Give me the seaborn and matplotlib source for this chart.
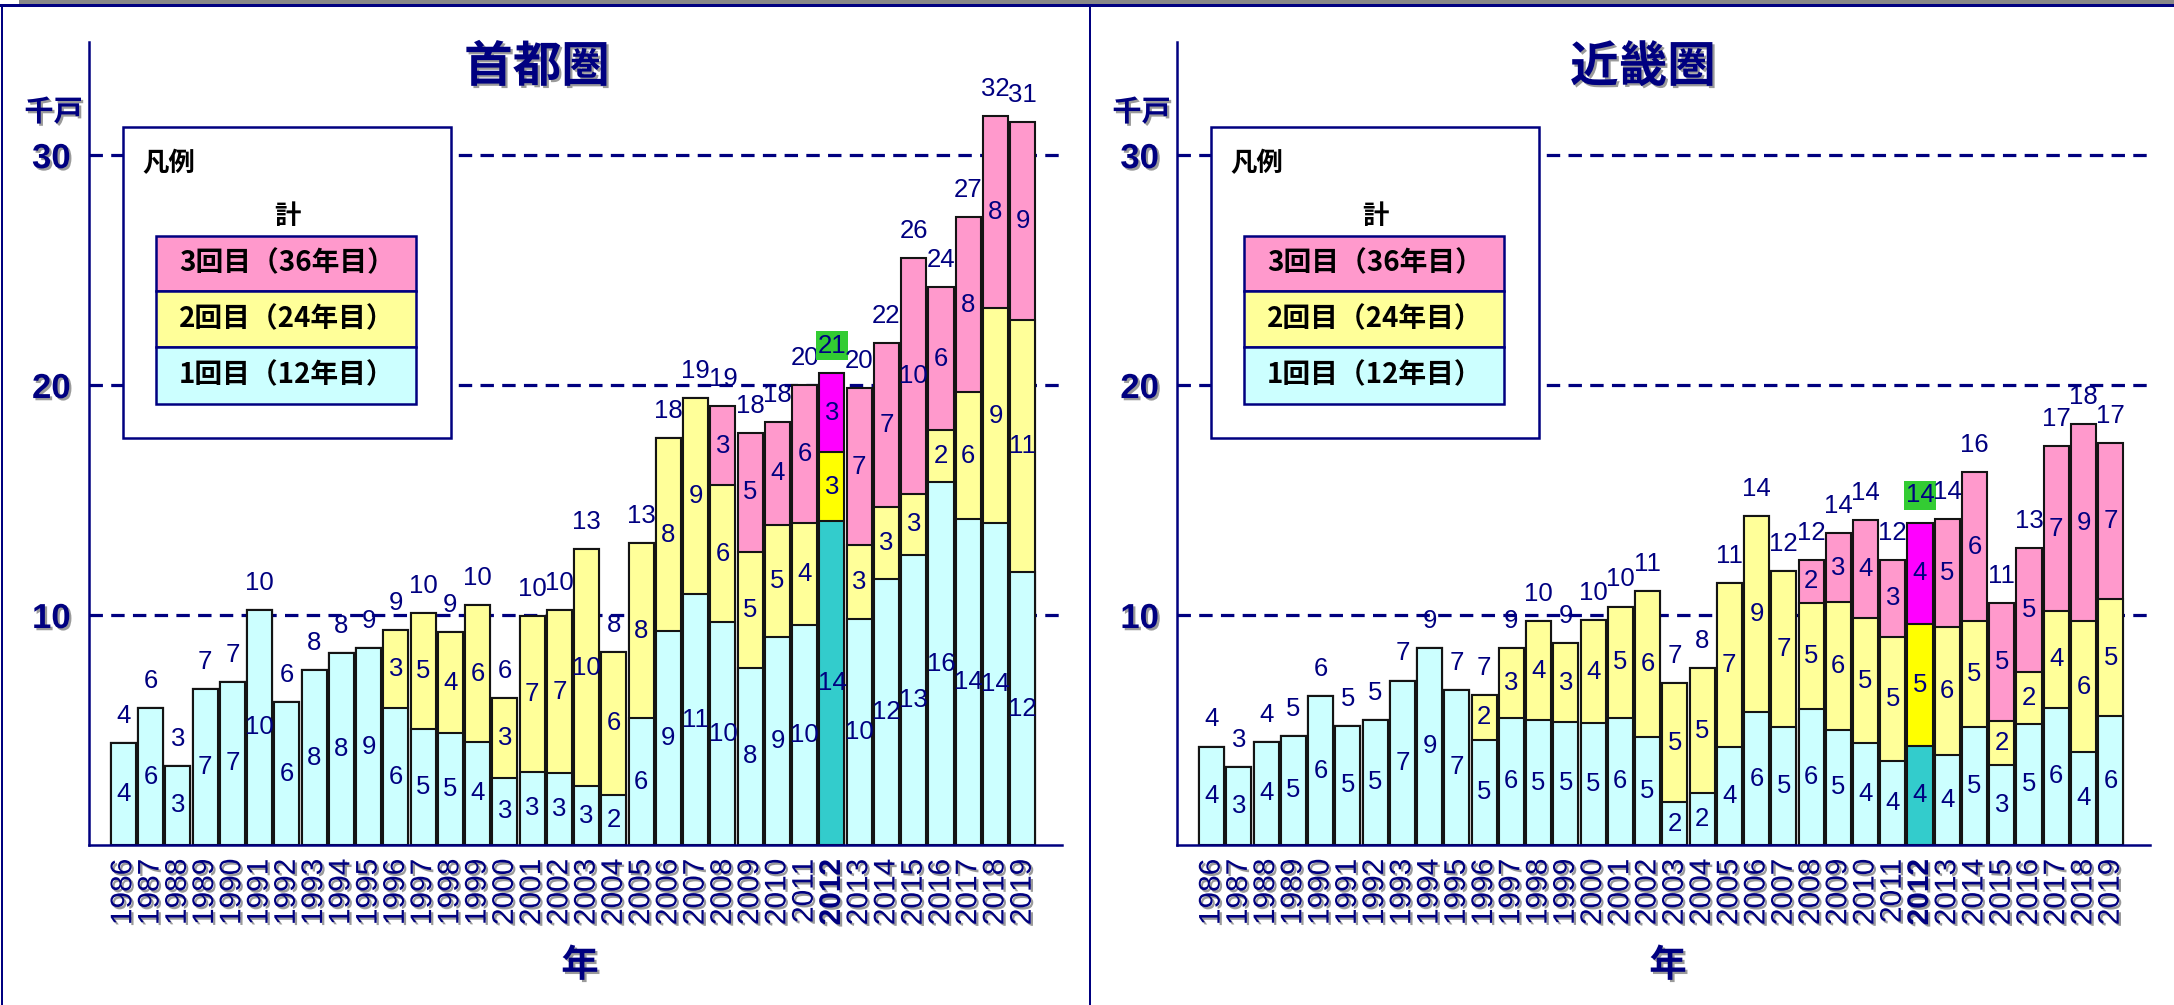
import matplotlib
matplotlib.use("Agg")
import matplotlib.pyplot as plt
import matplotlib.patheffects as pe
from matplotlib import font_manager
from matplotlib.patches import Rectangle
import pandas as pd
import seaborn as sns

# ---------------------------------------------------------------- data (千戸)
years = list(range(1986, 2020))
highlight_year = 2012

# 首都圏
shuto_1st = [4.42, 5.95, 3.45, 6.78, 7.09, 10.23, 6.20, 7.60, 8.36, 8.55,
             5.94, 5.03, 4.86, 4.48, 2.93, 3.19, 3.13, 2.56, 2.18, 5.52,
             9.31, 10.90, 9.68, 7.70, 9.06, 9.55, 14.10, 9.83, 11.55, 12.63,
             15.78, 14.16, 13.99, 11.86]
shuto_2nd = [0] * 10 + [3.39, 5.06, 4.40, 5.95, 3.45, 6.78, 7.07, 10.31, 6.21, 7.60,
                        8.37, 8.55, 5.97, 5.06, 4.87, 4.45, 2.97, 3.20, 3.15, 2.64,
                        2.27, 5.55, 9.37, 10.98]
shuto_3rd = [0] * 22 + [3.42, 5.17, 4.45, 6.00, 3.47, 6.83, 7.14, 10.25,
                        6.20, 7.58, 8.35, 8.61]

# 近畿圏
kinki_1st = [4.28, 3.38, 4.48, 4.74, 6.46, 5.18, 5.45, 7.15, 8.57, 6.75,
             4.57, 5.54, 5.42, 5.35, 5.29, 5.54, 4.68, 1.86, 2.25, 4.25,
             5.77, 5.14, 5.91, 5.01, 4.42, 3.66, 4.31, 3.92, 5.14, 3.48,
             5.27, 5.97, 4.05, 5.59]
kinki_2nd = [0] * 10 + [1.95, 3.01, 4.30, 3.42, 4.49, 4.83, 6.38, 5.18, 5.44, 7.14,
                        8.52, 6.77, 4.60, 5.55, 5.45, 5.37, 5.29, 5.57, 4.59, 1.91,
                        2.24, 4.20, 5.68, 5.12]
kinki_3rd = [0] * 22 + [1.90, 3.01, 4.28, 3.38, 4.42, 4.70, 6.47, 5.12,
                        5.42, 7.17, 8.56, 6.76]

panel_titles = ["首都圏", "近畿圏"]
legend_labels = ["3回目（36年目）", "2回目（24年目）", "1回目（12年目）"]
y_ticks = [10, 20, 30]

# ---------------------------------------------------------------- styling
NAVY = "#000080"
EDGE = "#141414"
CYAN, YELLOW, PINK = "#CCFFFF", "#FFFF99", "#FF99CC"
CYAN_HI, YELLOW_HI, PINK_HI = "#33CCCC", "#FFFF00", "#FF00FF"
LABEL_HI = "#33CC33"

W, H = 2174, 1005
fig = plt.figure(figsize=(W / 100, H / 100), dpi=100)

installed = {f.name for f in font_manager.fontManager.ttflist}
NARROW = "Liberation Sans Narrow" if "Liberation Sans Narrow" in installed else "Liberation Sans"
SANS = "Liberation Sans"
CJK = ["Noto Sans CJK JP", "DejaVu Sans"]
plt.rcParams["font.family"] = [SANS, "Noto Sans CJK JP", "DejaVu Sans"]

SHADOW = [pe.withSimplePatchShadow(offset=(1.6, -1.6), shadow_rgbFace="#9a9a9a", alpha=1.0)]


def fx(x):
    return x / W


def fy(y):
    return 1 - y / H


def fig_rect(x0, y0, x1, y1, **kw):
    r = Rectangle((fx(x0), fy(y1)), (x1 - x0) / W, (y1 - y0) / H,
                  transform=fig.transFigure, **kw)
    fig.add_artist(r)
    return r


def draw_panel(ax, first, second, third):
    df = pd.DataFrame({"year": [str(y) for y in years],
                       "first": first, "second": second, "third": third})
    df["upto2"] = df["first"] + df["second"]
    df["total"] = df["upto2"] + df["third"]
    hi = years.index(highlight_year)

    # stacked bars: draw cumulative heights from the top layer down
    for col, c, c_hi in [("total", PINK, PINK_HI), ("upto2", YELLOW, YELLOW_HI),
                         ("first", CYAN, CYAN_HI)]:
        sns.barplot(data=df, x="year", y=col, order=list(df["year"]), color=c,
                    saturation=1, width=0.92, edgecolor=EDGE, linewidth=1.5,
                    errorbar=None, ax=ax, zorder=2)
        ax.containers[-1].patches[hi].set_facecolor(c_hi)

    for y in y_ticks:
        ax.axhline(y, color=NAVY, lw=2.3, ls=(0, (4.2, 2.6)), zorder=1)

    # segment values
    for i, row in df.iterrows():
        bottom = 0.0
        for col in ["first", "second", "third"]:
            v = row[col]
            if v > 0:
                ax.text(i, bottom + v / 2, f"{v:.0f}", ha="center", va="center",
                        fontsize=18.5, color=NAVY, family=NARROW, zorder=4)
            bottom += v
        kw = {}
        if years[i] == highlight_year:
            kw["bbox"] = dict(boxstyle="square,pad=0.08", fc=LABEL_HI, ec="none")
        ax.annotate(f"{row['total']:.0f}", (i, row["total"]), xytext=(0, 19.5),
                    textcoords="offset points", ha="center", va="center",
                    fontsize=18.5, color=NAVY, family=NARROW, zorder=4, **kw)

    ax.set_xlim(-1.27, 34.44)
    ax.set_ylim(0, 34.93)
    ax.set_xlabel("")
    ax.set_ylabel("")
    for s in ["top", "right"]:
        ax.spines[s].set_visible(False)
    for s in ["left", "bottom"]:
        ax.spines[s].set_color(NAVY)
        ax.spines[s].set_linewidth(1.8)
    ax.set_yticks(y_ticks)
    ax.set_yticklabels([str(t) for t in y_ticks], fontsize=25, fontweight="bold",
                       color=NAVY, family=SANS)
    for t in ax.get_yticklabels():
        t.set_path_effects(SHADOW)
    ax.tick_params(axis="y", length=0, pad=13)
    ax.set_xticks(range(len(years)))
    ax.set_xticklabels([str(y) for y in years], rotation=90, fontsize=21.5,
                       color=NAVY, family=SANS)
    for t in ax.get_xticklabels():
        t.set_path_effects(SHADOW)
        if t.get_text() == str(highlight_year):
            t.set_fontweight("bold")
    ax.tick_params(axis="x", length=0, pad=10)
    ax.set_facecolor("white")


panels = [
    dict(x0=88.7, x1=1062, data=(shuto_1st, shuto_2nd, shuto_3rd), dx=0, tx=537),
    dict(x0=1177, x1=2150, data=(kinki_1st, kinki_2nd, kinki_3rd), dx=1088, tx=1643),
]
y_top, y_base = 41.7, 845.0

for p, title in zip(panels, panel_titles):
    ax = fig.add_axes([fx(p["x0"]), fy(y_base), (p["x1"] - p["x0"]) / W,
                       (y_base - y_top) / H])
    draw_panel(ax, *p["data"])
    dx = p["dx"]

    # panel title, unit and axis label
    fig.text(fx(p["tx"]), fy(67), title, ha="center", va="center",
             fontsize=35, fontweight="bold", color=NAVY, family=CJK, path_effects=SHADOW)
    fig.text(fx(53.5 + dx), fy(112), "千戸", ha="center", va="center",
             fontsize=21, fontweight="bold", color=NAVY, family=CJK, path_effects=SHADOW)
    fig.text(fx(580 + dx), fy(965), "年", ha="center", va="center",
             fontsize=27, fontweight="bold", color=NAVY, family=CJK, path_effects=SHADOW)

    # legend box
    lx = dx
    fig_rect(123 + lx, 127, 451 + lx, 438, fc="white", ec=NAVY, lw=1.8, zorder=5)
    fig.text(fx(142 + lx), fy(164), "凡例", ha="left", va="center", fontsize=19,
             fontweight="bold", color="black", family=CJK, zorder=6)
    fig.text(fx(287 + lx), fy(216), "計", ha="center", va="center", fontsize=19,
             fontweight="bold", color="black", family=CJK, zorder=6)
    rows = [(236, 291), (291, 347), (347, 404)]
    for (r0, r1), c, lab in zip(rows, [PINK, YELLOW, CYAN], legend_labels):
        fig_rect(156 + lx, r0, 416 + lx, r1, fc=c, ec=NAVY, lw=1.8, zorder=5)
        fig.text(fx(287 + lx), fy((r0 + r1) / 2), lab, ha="center", va="center",
                 fontsize=20, fontweight="bold", color="black", family=CJK, zorder=6)

# page frame
fig_rect(19, 0, W, 4.3, fc="#888888", ec="none", lw=0, zorder=7)
fig_rect(0, 4.3, W, 6.8, fc=NAVY, ec="none", lw=0, zorder=7)
fig_rect(1, 4.3, 3.4, H, fc=NAVY, ec="none", lw=0, zorder=7)
fig_rect(1088.8, 4.3, 1091.4, H, fc=NAVY, ec="none", lw=0, zorder=7)

fig.savefig("out.png", dpi=100, facecolor="white")
